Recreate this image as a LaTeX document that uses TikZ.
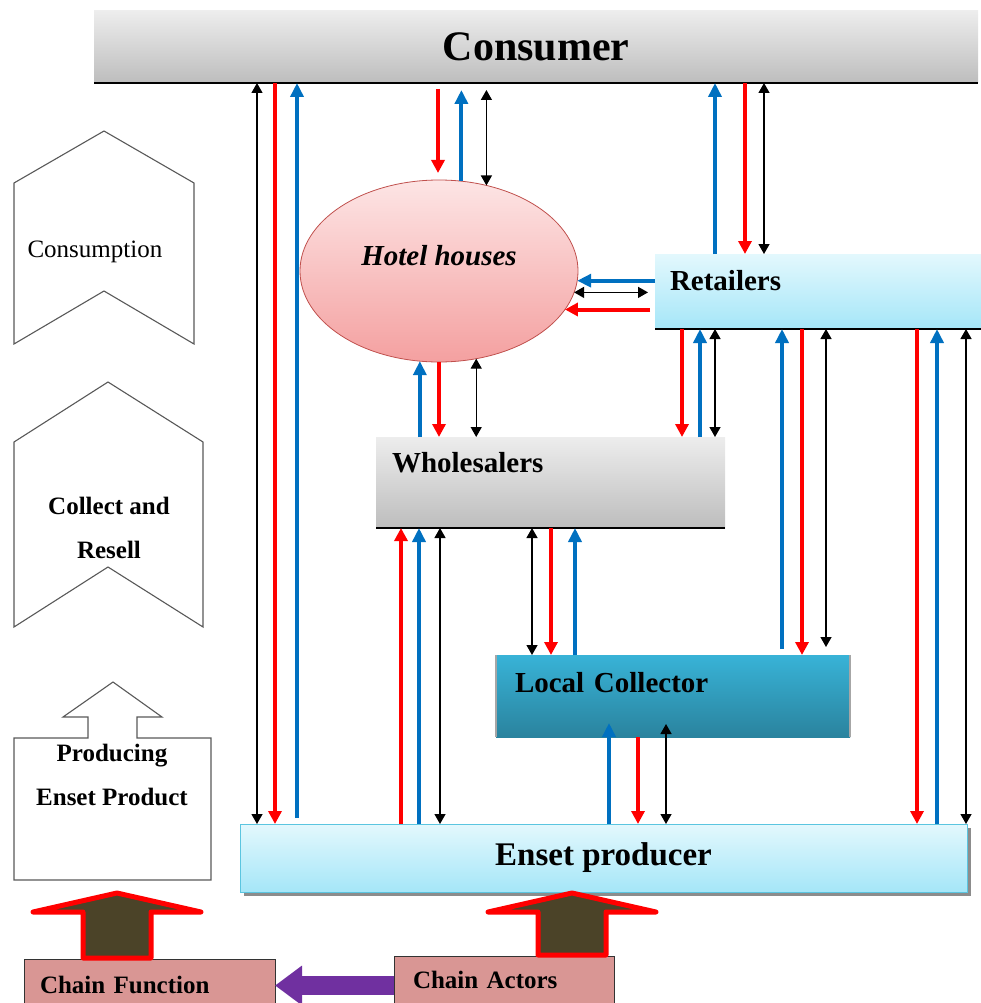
\documentclass[tikz,border=0pt]{standalone}
\usepackage{fontspec}
\setmainfont{Liberation Serif}
\usetikzlibrary{arrows.meta, shapes.geometric, shadows}

\definecolor{flowRed}{HTML}{FF0000}
\definecolor{flowBlue}{HTML}{0070C0}
\definecolor{barTop}{HTML}{EDEDED}
\definecolor{barBottom}{HTML}{BDBDBD}
\definecolor{skyTop}{HTML}{E3F8FD}
\definecolor{skyBottom}{HTML}{A5E6F8}
\definecolor{skyBorder}{HTML}{5BC5E0}
\definecolor{tealTop}{HTML}{38B3D7}
\definecolor{tealBottom}{HTML}{2A839E}
\definecolor{pinkTop}{HTML}{FDE5E5}
\definecolor{pinkBottom}{HTML}{F4A0A0}
\definecolor{pinkBorder}{HTML}{C0504D}
\definecolor{chainFill}{HTML}{D99694}
\definecolor{chainPurple}{HTML}{7030A0}
\definecolor{blockBrown}{HTML}{4B4328}
\definecolor{stageGray}{HTML}{595959}

\begin{document}
\begin{tikzpicture}[x=1pt, y=-1pt,
box/.style={rectangle, inner sep=0pt, outer sep=0pt, align=left},
%
greybar/.style={box, top color=barTop, bottom color=barBottom},
%
skybar/.style={box, top color=skyTop, bottom color=skyBottom},
%
tealbar/.style={box, top color=tealTop, bottom color=tealBottom},
%
chainbox/.style={box, fill=chainFill, draw=black!80, line width=.8pt,
font=\fontsize{25}{30}\selectfont\bfseries},
%
stage/.style={draw=stageGray, line width=1.1pt, fill=white},
%
stagelabel/.style={align=center, font=\fontsize{25}{44}\selectfont\bfseries},
%
prodflow/.style={draw=flowRed, line width=4pt,
-{Triangle[length=13pt,width=13pt]}},
%
cashflow/.style={draw=flowBlue, line width=4pt,
-{Triangle[length=14pt,width=13pt]}},
%
infoflow/.style={draw=black, line width=1.3pt,
{Triangle[length=10pt,width=11pt]}-{Triangle[length=10pt,width=11pt]}},
%
blockup/.style={draw=flowRed, line width=5pt, line join=round, fill=blockBrown}]

\useasboundingbox (0,0) rectangle (980,1003);

%%%%%%%%%%%%%%%%%%%%%%%%%%%%%% stages on the left
\draw[stage] (14,183) -- (104,131) -- (194,183) -- (194,344) -- (104,291) -- (14,344) -- cycle;
\draw[stage] (14,442) -- (108,382) -- (203,442) -- (203,627) -- (108,567) -- (14,627) -- cycle;
\draw[stage] (14,738) -- (88,738) -- (88,717) -- (63,717) -- (113,682) -- (162,717)
  -- (137,717) -- (137,738) -- (211,738) -- (211,880) -- (14,880) -- cycle;
\node[anchor=base west, font=\fontsize{25}{30}\selectfont] (consumption) at (24,257) {Consumption};
\node[stagelabel] (collect) at (109,528) {Collect and\\Resell};
\node[stagelabel] (producing) at (112,775) {Producing\\Enset Product};

%%%%%%%%%%%%%%%%%%%%%%%%%%%%%% chain actors
\node[greybar, minimum width=884pt, minimum height=72pt, align=center,
  font=\fontsize{42}{50}\selectfont\bfseries] (cons) at (536,47) {Consumer};
\node[ellipse, minimum width=278pt, minimum height=182pt, inner sep=0pt, outer sep=0pt,
  top color=pinkTop, bottom color=pinkBottom, draw=pinkBorder, line width=.8pt,
  text depth=31pt, font=\fontsize{29}{35}\selectfont\bfseries\itshape] (hotel) at (439,271) {Hotel houses};
\node[skybar, minimum width=330pt, minimum height=75pt, text width=300pt, text depth=23pt,
  font=\fontsize{29}{35}\selectfont\bfseries] (ret) at (820,291.5) {Retailers};
\node[greybar, minimum width=349pt, minimum height=91pt, text width=317pt, text depth=41pt,
  font=\fontsize{29}{35}\selectfont\bfseries] (whole) at (550.5,482.5) {Wholesalers};
\node[tealbar, minimum width=354pt, minimum height=82pt, text width=316pt, text depth=28pt,
  font=\fontsize{29}{35}\selectfont\bfseries] (coll) at (673,696) {Local Collector};
\node[skybar, draw=skyBorder, line width=1pt, minimum width=727pt, minimum height=68pt, align=center,
  drop shadow={shadow xshift=4pt, shadow yshift=-4pt, fill=black!45, opacity=1},
  font=\fontsize{33}{40}\selectfont\bfseries] (ens) at (603.5,858) {Enset producer};

\draw[line width=2pt] (cons.south west) -- (cons.south east);
\draw[line width=2pt] (ret.south west) -- (ret.south east);
\draw[line width=2pt] (whole.south west) -- (whole.south east);
\draw[gray!70, line width=1.2pt] (coll.north west) -- (coll.south west);
\draw[gray!70, line width=1.2pt] (coll.north east) -- (coll.south east);

%%%%%%%%%%%%%%%%%%%%%%%%%%%%%% chain function and chain actors
\node[chainbox, minimum width=251pt, minimum height=51pt, text width=219pt] (fun) at (149.5,984.5) {Chain Function};
\node[chainbox, minimum width=220pt, minimum height=54pt, text width=182pt, text depth=6pt] (act) at (504,983) {Chain Actors};

\foreach \cx/\by in {117/958, 572/955}
  \draw[blockup] (\cx-34,\by) -- (\cx-34,912) -- (\cx-84,912) -- (\cx,893)
    -- (\cx+84,912) -- (\cx+34,912) -- (\cx+34,\by) -- cycle;

\draw[draw=chainPurple, line width=19pt, -{Triangle[length=27pt,width=38pt]}]
  (act.west |- 0,985.5) -- (fun.east |- 0,985.5);

%%%%%%%%%%%%%%%%%%%%%%%%%%%%%% consumer and enset producer
\draw[infoflow] (cons.south -| 257,0) -- (ens.north -| 257,0);
\draw[prodflow] (cons.south -| 275,0) -- (ens.north -| 275,0);
\draw[cashflow, shorten <=6pt] (ens.north -| 297,0) -- (cons.south -| 297,0);
%%%%%%%%%%%%%%%%%%%%%%%%%%%%%% consumer and hotel houses
\draw[prodflow, shorten <=6pt, shorten >=7pt] (cons.south -| 438,0) -- (hotel.north -| 438,0);
\draw[cashflow, shorten >=7pt] (hotel.76) -- (cons.south -| hotel.76);
\draw[infoflow, shorten <=7pt] (cons.south -| hotel.61) -- (hotel.61);
%%%%%%%%%%%%%%%%%%%%%%%%%%%%%% consumer and retailers
\draw[cashflow] (ret.north -| 715,0) -- (cons.south -| 715,0);
\draw[prodflow] (cons.south -| 745,0) -- (ret.north -| 745,0);
\draw[infoflow] (cons.south -| 764,0) -- (ret.north -| 764,0);
%%%%%%%%%%%%%%%%%%%%%%%%%%%%%% retailers and hotel houses
\draw[cashflow] (ret.west |- hotel.356) -- (hotel.356);
\draw[infoflow, shorten <=7pt] (ret.west |- hotel.351) -- (hotel.351);
\draw[prodflow, shorten <=5pt] (ret.west |- hotel.343) -- (hotel.343);
%%%%%%%%%%%%%%%%%%%%%%%%%%%%%% hotel houses and wholesalers
\draw[cashflow] (whole.north -| hotel.258) -- (hotel.258);
\draw[prodflow] (hotel.south) -- (whole.north -| hotel.south);
\draw[infoflow] (hotel.293) -- (whole.north -| hotel.293);
%%%%%%%%%%%%%%%%%%%%%%%%%%%%%% retailers and wholesalers
\draw[prodflow] (ret.south -| 682,0) -- (whole.north -| 682,0);
\draw[cashflow] (whole.north -| 700,0) -- (ret.south -| 700,0);
\draw[infoflow] (ret.south -| 715,0) -- (whole.north -| 715,0);
%%%%%%%%%%%%%%%%%%%%%%%%%%%%%% retailers and local collector
\draw[cashflow, shorten <=6pt] (coll.north -| 782,0) -- (ret.south -| 782,0);
\draw[prodflow] (ret.south -| 802,0) -- (coll.north -| 802,0);
\draw[infoflow, shorten >=8pt] (ret.south -| 826,0) -- (coll.north -| 826,0);
%%%%%%%%%%%%%%%%%%%%%%%%%%%%%% retailers and enset producer
\draw[prodflow] (ret.south -| 917,0) -- (ens.north -| 917,0);
\draw[cashflow] (ens.north -| 937,0) -- (ret.south -| 937,0);
\draw[infoflow] (ret.south -| 966,0) -- (ens.north -| 966,0);
%%%%%%%%%%%%%%%%%%%%%%%%%%%%%% wholesalers and enset producer
\draw[prodflow] (ens.north -| 401,0) -- (whole.south -| 401,0);
\draw[cashflow] (ens.north -| 419,0) -- (whole.south -| 419,0);
\draw[infoflow] (whole.south -| 440,0) -- (ens.north -| 440,0);
%%%%%%%%%%%%%%%%%%%%%%%%%%%%%% wholesalers and local collector
\draw[infoflow] (whole.south -| 532,0) -- (coll.north -| 532,0);
\draw[prodflow] (whole.south -| 551,0) -- (coll.north -| 551,0);
\draw[cashflow] (coll.north -| 575,0) -- (whole.south -| 575,0);
%%%%%%%%%%%%%%%%%%%%%%%%%%%%%% local collector and enset producer
\draw[cashflow, shorten >=-14pt] (ens.north -| 609,0) -- (coll.south -| 609,0);
\draw[prodflow] (coll.south -| 638,0) -- (ens.north -| 638,0);
\draw[infoflow, shorten <=-13pt] (coll.south -| 666,0) -- (ens.north -| 666,0);

\end{tikzpicture}
\end{document}
